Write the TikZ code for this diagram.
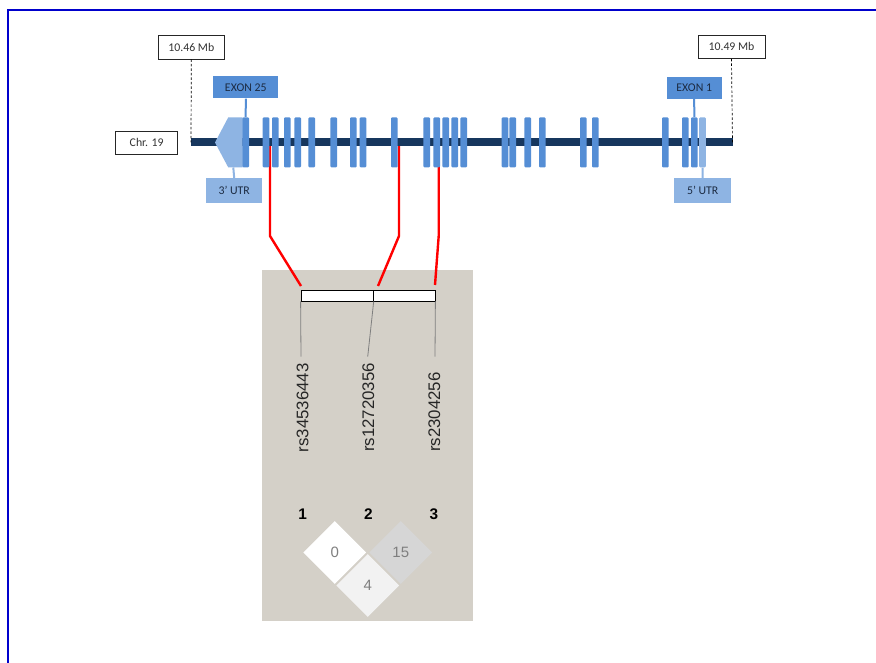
\documentclass[tikz,border=0pt]{standalone}
\usepackage{fontspec}
\setmainfont{Carlito}
\newfontfamily\arialf{Liberation Sans}
\usetikzlibrary{shapes.geometric}
\definecolor{chrom}{HTML}{17375E}
\definecolor{exonc}{HTML}{558ED5}
\definecolor{utrc}{HTML}{8EB4E3}
\definecolor{panelc}{HTML}{D4D0C8}
\definecolor{framec}{RGB}{0,0,204}
\definecolor{ldgray}{HTML}{D6D6D6}
\definecolor{ldlight}{HTML}{F2F2F2}
\definecolor{labtext}{HTML}{1C2B42}
\definecolor{stemc}{HTML}{7F7F7F}
\begin{document}
\begin{tikzpicture}[x=1pt,y=-1pt,
  exonbox/.style={rectangle, fill=exonc, minimum width=6.6pt, minimum height=50pt, inner sep=0pt, rounded corners=1pt},
  utrexon/.style={exonbox, fill=utrc},
  posbox/.style={rectangle, draw=black!85, line width=0.7pt, fill=white, inner sep=0pt, font=\fontsize{11.8}{13}\selectfont, text=black!80},
  tagbox/.style={rectangle, inner sep=0pt, minimum height=22pt, font=\fontsize{11.8}{13}\selectfont, text=labtext},
  tagline/.style={line width=2pt},
  redline/.style={red, line width=2.4pt},
  stem/.style={stemc, line width=0.8pt},
  barbox/.style={rectangle, draw=black, line width=0.8pt, fill=white, inner sep=0pt, minimum height=11pt},
  rslabel/.style={rotate=90, anchor=west, inner sep=0pt, font=\arialf\fontsize{16.8}{18}\selectfont, text=black!85},
  numlabel/.style={inner sep=0pt, font=\arialf\bfseries\fontsize{15.4}{17}\selectfont},
  ldcell/.style={shape=diamond, inner sep=0pt, minimum width=63pt, minimum height=63pt, font=\arialf\fontsize{15}{17}\selectfont, text=stemc}
]
\useasboundingbox (0,0) rectangle (876,663);
\fill[white] (0,0) rectangle (876,663);
% frame
\draw[framec, line width=2pt] (7.7,663) -- (7.7,10.2) -- (876,10.2);

% red connectors (under the gene)
\coordinate (r1a) at (270,142.5);
\coordinate (r1b) at (270,236);
\coordinate (r2a) at (399,142.5);
\coordinate (r2b) at (399,236);
\coordinate (r3a) at (438.7,142.5);
\coordinate (r3b) at (438.7,236);

% gray panel
\fill[panelc] (262,270) rectangle (473,621);

% bar
\node[barbox, minimum width=72.3pt] (bar1) at (337.15,295.5) {};
\node[barbox, minimum width=61.7pt] (bar2) at (404.15,295.5) {};
\coordinate (s1) at (301,286);
\coordinate (s2) at (378,286);
\coordinate (s3) at (435,285);
\draw[redline] (r1a) -- (r1b) -- (s1);
\draw[redline] (r2a) -- (r2b) -- (s2);
\draw[redline] (r3a) -- (r3b) -- (s3);

% chromosome
\coordinate (chrL) at (191,142.5);
\coordinate (chrR) at (732.5,142.5);
\draw[chrom, line width=8pt] (chrL) -- (chrR);

% 3' UTR shape
\fill[utrc] (228.3,117.3) -- (242.5,117.3) -- (242.5,167.5) -- (228.3,167.5) -- (215,142.5) -- cycle;
\coordinate (utr3b) at (233.3,167.5);

% exons
\foreach \x [count=\i] in {245.7,266,275.3,287.3,297.7,311.7,333.7,353.3,363,394.3,426.7,436.7,445.7,454.7,463.7,505,512.7,527.7,542.3,583.3,595.3,665.3,685.3,694.3}
  \node[exonbox] (e\i) at (\x,142.4) {};
\node[utrexon] (u5) at (702.5,142.4) {};

% position boxes
\node[posbox, minimum width=66pt, minimum height=24pt] (p1) at (191.3,47) {10.46 Mb};
\node[posbox, minimum width=67pt, minimum height=23.3pt] (p2) at (731.5,46.8) {10.49 Mb};
\draw[black, line width=0.7pt, dash pattern=on 2.5pt off 2pt] (p1.south) -- (chrL);
\draw[black, line width=0.7pt, dash pattern=on 2.5pt off 2pt] (p2.south) -- (chrR);
\node[posbox, minimum width=62pt, minimum height=23pt] (chr) at (146.7,142.5) {Chr. 19};

% exon tags
\node[tagbox, fill=exonc, minimum width=65pt] (t25) at (245.8,87.5) {EXON 25};
\node[tagbox, fill=exonc, minimum width=55pt] (t1) at (694.2,87.8) {EXON 1};
\node[tagbox, fill=utrc, minimum width=56pt, minimum height=24.5pt] (tu3) at (234.2,190.5) {3’ UTR};
\node[tagbox, fill=utrc, minimum width=57pt, minimum height=24.5pt] (tu5) at (702.7,190.5) {5’ UTR};
\draw[tagline, exonc] (t25.south) -- (e1.north);
\draw[tagline, exonc] (t1.south) -- (e24.north);
\draw[tagline, utrc] (utr3b) -- (tu3.north);
\draw[tagline, utrc] (u5.south) -- (tu5.north);

% stems
\coordinate (q1) at (301,356.7);
\coordinate (q2) at (367.7,356.7);
\coordinate (q3) at (435,356.7);
\draw[stem] (bar1.south west) -- (q1);
\draw[stem] (bar1.south east) -- (q2);
\draw[stem] (bar2.south east) -- (q3);

% rs labels
\node[rslabel] (rs1) at (302.5,452.5) {rs34536443};
\node[rslabel] (rs2) at (368.3,452) {rs12720356};
\node[rslabel] (rs3) at (434.3,452) {rs2304256};

% numbers
\node[numlabel] (n1) at (302.7,513.8) {1};
\node[numlabel] (n2) at (368.3,513.8) {2};
\node[numlabel] (n3) at (434,513.8) {3};

% LD cells
\node[ldcell, fill=white] (ld12) at (334.7,552.5) {0};
\node[ldcell, fill=ldgray] (ld23) at (400.8,552.5) {15};
\node[ldcell, fill=ldlight] (ld13) at (367.7,585.5) {4};
\end{tikzpicture}
\end{document}
